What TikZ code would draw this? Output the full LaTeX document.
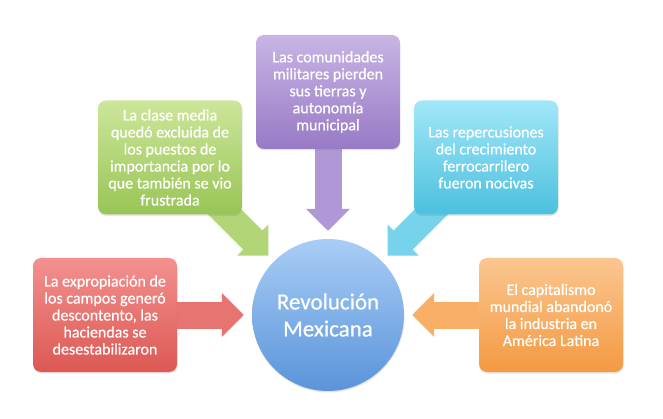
\documentclass[tikz,border=0pt]{standalone}
\usepackage{fontspec}
\setmainfont{Carlito}
\newfontfamily\gruesa{Carlito}[FakeBold=0.6]
\usetikzlibrary{arrows.meta,backgrounds,shadows}

\definecolor{rojoA}{HTML}{F3918F}
\definecolor{rojoB}{HTML}{DC5853}
\definecolor{verdeA}{HTML}{CDE69A}
\definecolor{verdeB}{HTML}{98C556}
\definecolor{moradoA}{HTML}{C8B5E4}
\definecolor{moradoB}{HTML}{987AC6}
\definecolor{cianA}{HTML}{A2E7F8}
\definecolor{cianB}{HTML}{4CC0DE}
\definecolor{naranjaA}{HTML}{FBC690}
\definecolor{naranjaB}{HTML}{F49A42}
\definecolor{azulA}{HTML}{A9CDF6}
\definecolor{azulB}{HTML}{5A94DA}

\begin{document}
\begin{tikzpicture}[x=1pt, y=-1pt,
  caja/.style={rounded corners=8pt, minimum width=144pt, minimum height=114pt,
    align=center, text=white, inner sep=2pt, font=\gruesa\fontsize{16}{17}\selectfont,
    drop shadow={opacity=0.2, shadow xshift=0.5pt, shadow yshift=-1.5pt}},
  flecha/.style={line width=27pt, shorten >=8pt,
    -{Triangle[length=22pt, width=43pt]}}]
  \useasboundingbox (0,0) rectangle (663,419);

  \node[circle, minimum size=152pt, top color=azulA, bottom color=azulB,
    text=white, align=center, font=\gruesa\fontsize{23}{27}\selectfont,
    drop shadow={opacity=0.2, shadow xshift=0.5pt, shadow yshift=-1.5pt}]
    (rev) at (328,315) {Revolución\\Mexicana};

  \node[caja, top color=rojoA, bottom color=rojoB] (expro) at (105,315)
    {La expropiación de\\los campos generó\\descontento, las\\haciendas se\\desestabilizaron};
  \node[caja, top color=verdeA, bottom color=verdeB] (clase) at (170,157.5)
    {La clase media\\quedó excluida de\\los puestos de\\importancia por lo\\que también se vio\\frustrada};
  \node[caja, top color=moradoA, bottom color=moradoB] (comun) at (328,92)
    {Las comunidades\\militares pierden\\sus tierras y\\autonomía\\municipal};
  \node[caja, top color=cianA, bottom color=cianB] (ferro) at (486,157.5)
    {Las repercusiones\\del crecimiento\\ferrocarrilero\\fueron nocivas};
  \node[caja, top color=naranjaA, bottom color=naranjaB] (capital) at (551,315)
    {El capitalismo\\mundial abandonó\\la industria en\\América Latina};

  \begin{pgfonlayer}{background}
  \path[flecha]
  (expro.center) edge [draw=rojoA!50!rojoB] (rev)
  (clase.center) edge [draw=verdeA!50!verdeB] (rev)
  (comun.center) edge [draw=moradoA!50!moradoB] (rev)
  (ferro.center) edge [draw=cianA!50!cianB] (rev)
  (capital.center) edge [draw=naranjaA!50!naranjaB] (rev);
  \end{pgfonlayer}
\end{tikzpicture}
\end{document}
